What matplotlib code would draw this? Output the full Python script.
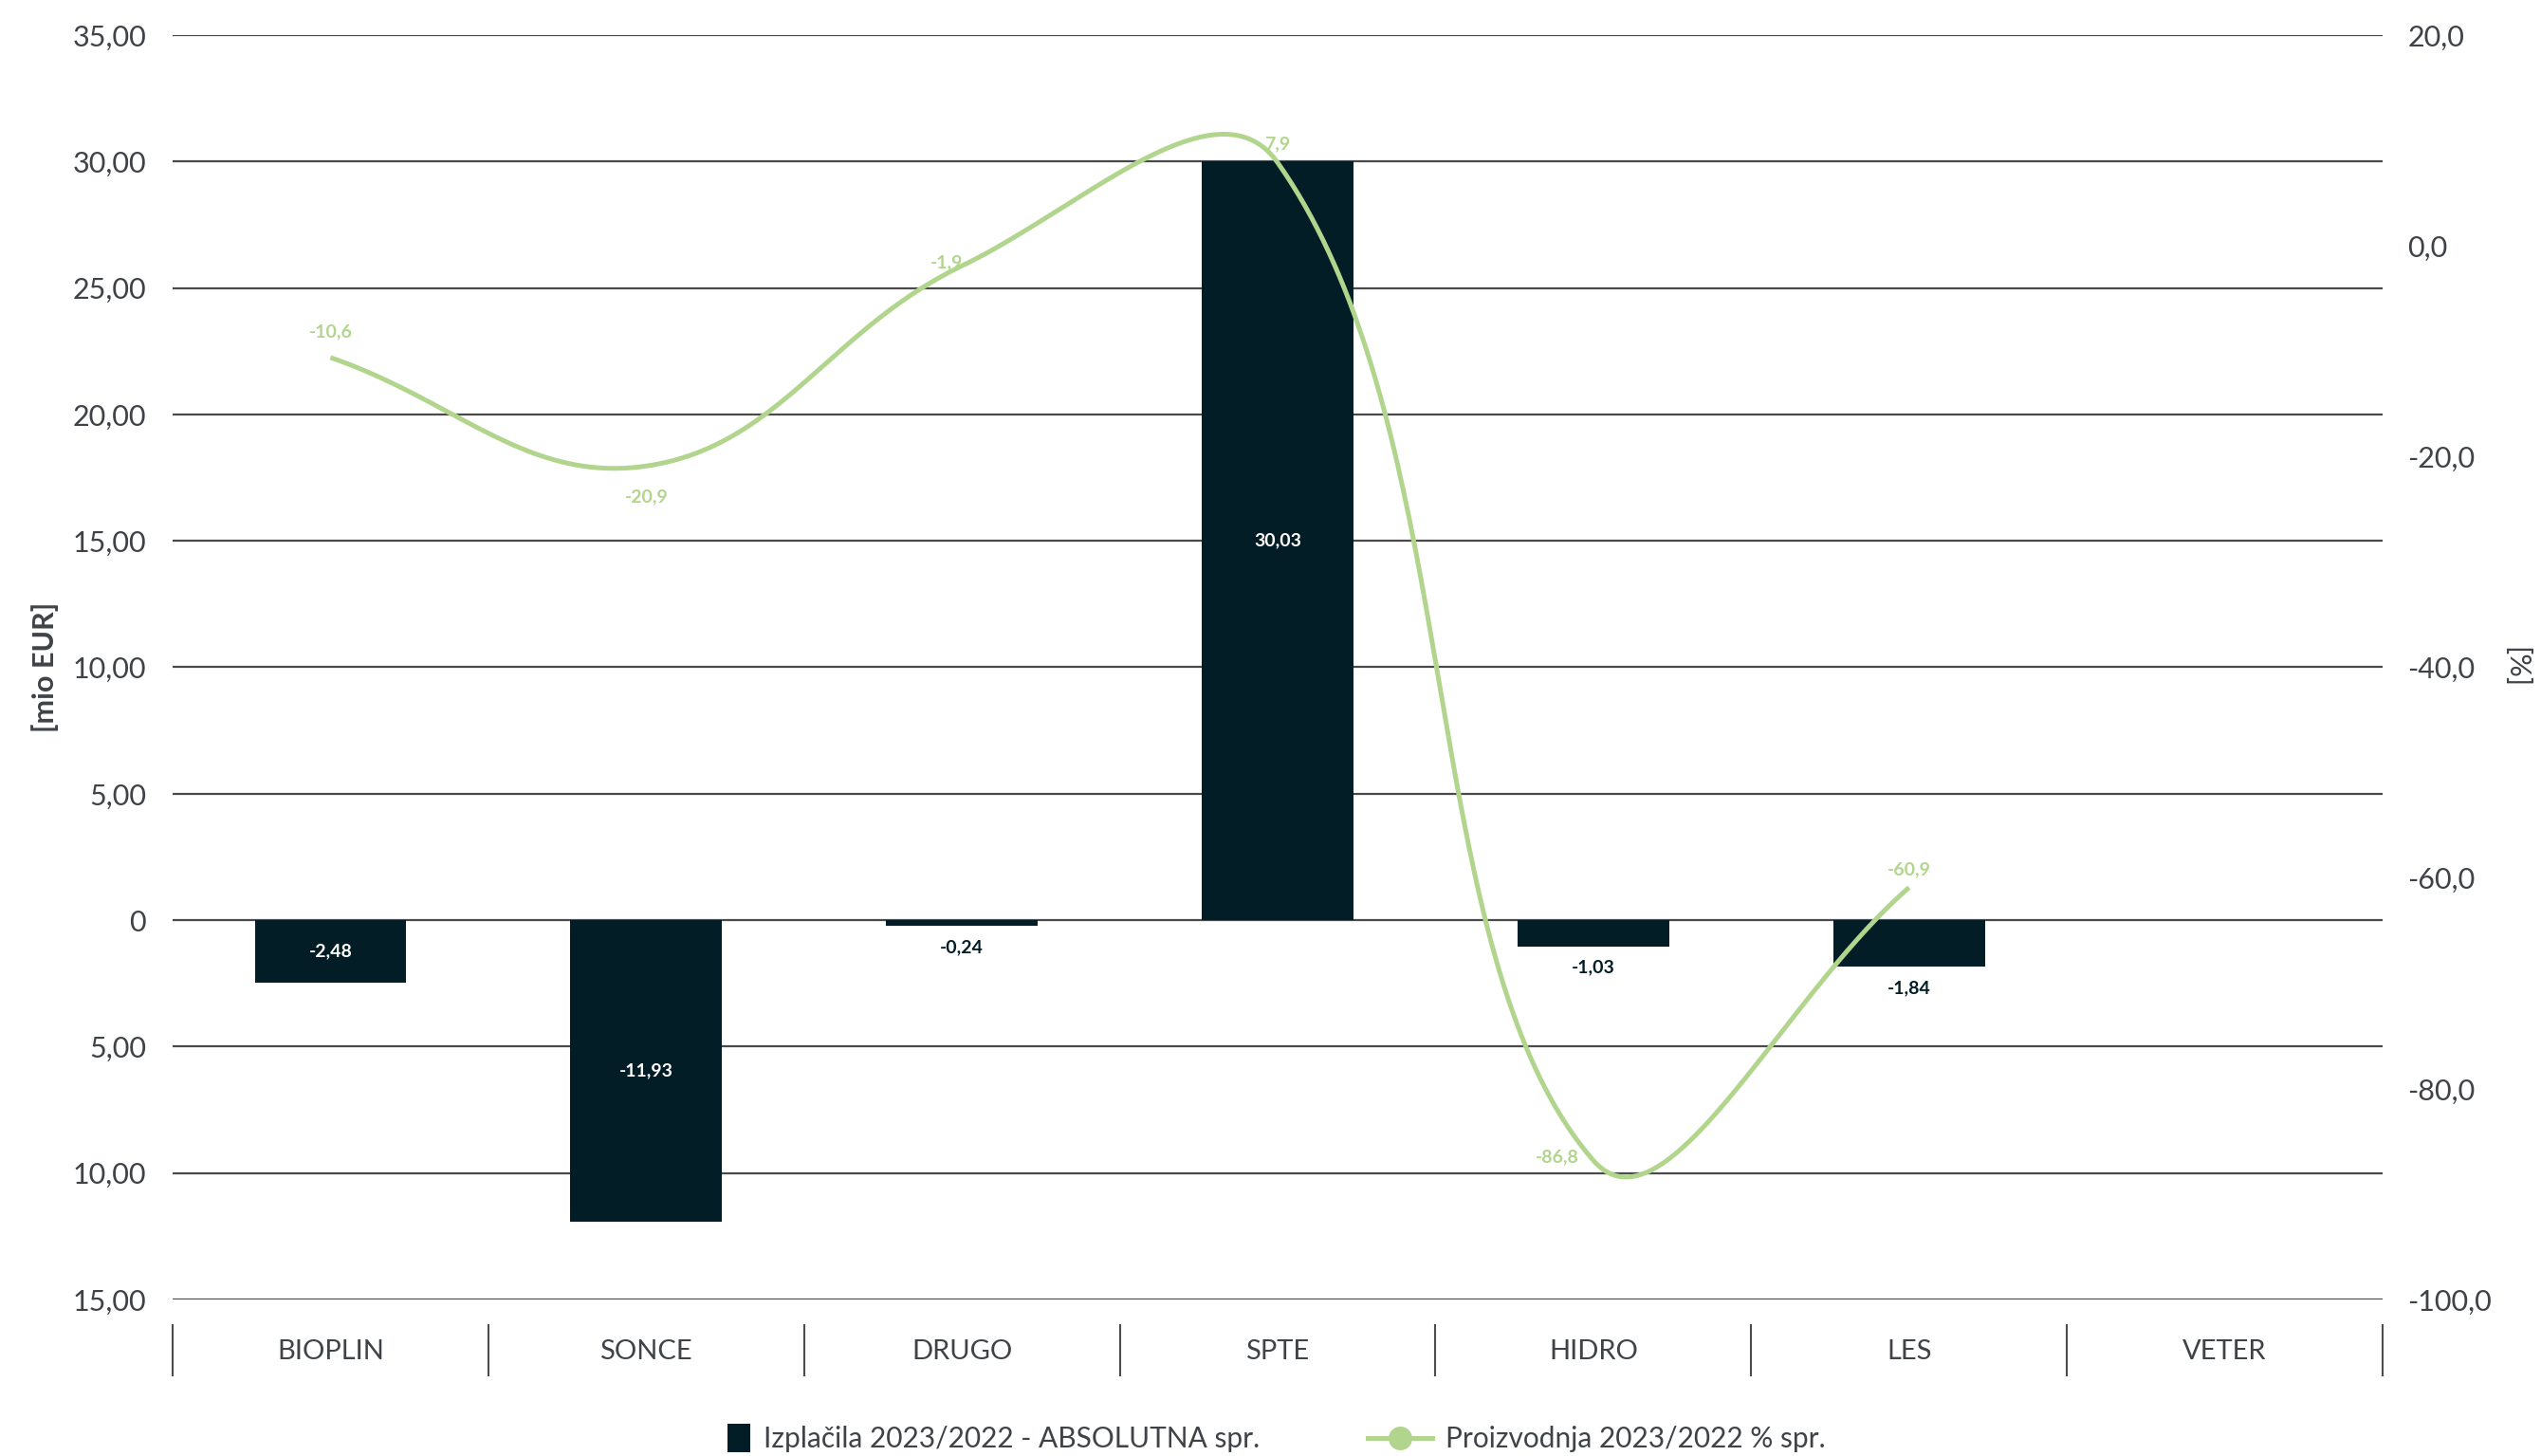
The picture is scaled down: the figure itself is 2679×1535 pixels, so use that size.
import numpy as np
import matplotlib
matplotlib.use("Agg")
import matplotlib.pyplot as plt
import matplotlib.patches as mpatches
import matplotlib.transforms as mtransforms
from matplotlib.lines import Line2D
from matplotlib.legend_handler import HandlerPatch

# ---------------- data ----------------
categories = ["BIOPLIN", "SONCE", "DRUGO", "SPTE", "HIDRO", "LES", "VETER"]
izplacila = [-2.48, -11.93, -0.24, 30.03, -1.03, -1.84, np.nan]   # mio EUR
proizvodnja = [-10.6, -20.9, -1.9, 7.9, -86.8, -60.9]              # %
left_ticks = [-15, -10, -5, 0, 5, 10, 15, 20, 25, 30, 35]
right_ticks = [-100, -80, -60, -40, -20, 0, 20]
bar_label = "Izplačila 2023/2022 - ABSOLUTNA spr."
line_label = "Proizvodnja 2023/2022 % spr."

# ---------------- style ----------------
BAR_C = "#021d25"
GREEN = "#b2d58d"
TXT = "#3f4347"
GRID = "#4a4a4a"
FONT = ["Lato", "DejaVu Sans"]
plt.rcParams["font.family"] = FONT

W, H, DPI = 2679, 1535, 100
fig = plt.figure(figsize=(W / DPI, H / DPI), dpi=DPI)
L, R, T, B = 182, 2512, 37, 1370
ax = fig.add_axes([L / W, 1 - B / H, (R - L) / W, (B - T) / H])
ax2 = ax.twinx()
ax2.set_position(ax.get_position())

x = np.arange(len(categories))
ax.set_xlim(-0.5, len(categories) - 0.5)
ax.set_ylim(-15, 35)
ax2.set_ylim(-100, 20)

for a in (ax, ax2):
    for s in a.spines.values():
        s.set_visible(False)

# gridlines on left axis ticks
ax.set_yticks(left_ticks)
ax.set_yticklabels(["0" if v == 0 else f"{abs(v):.2f}".replace(".", ",") for v in left_ticks])
ax.yaxis.grid(True, color=GRID, linewidth=1.6)
ax.set_axisbelow(True)
ax.tick_params(axis="y", length=0, pad=20, labelsize=22, labelcolor=TXT)
ax.tick_params(axis="x", length=0, labelbottom=False)

ax2.set_yticks(right_ticks)
ax2.set_yticklabels([f"{v:.1f}".replace(".", ",") for v in right_ticks])
ax2.tick_params(axis="y", length=0, pad=19, labelsize=22, labelcolor=TXT)

# bars
bars = ax.bar(x, izplacila, width=0.48, color=BAR_C, zorder=2)
for xi, v in zip(x, izplacila):
    if np.isnan(v):
        continue
    txt = f"{v:.2f}".replace(".", ",")
    if abs(v) >= 2.0:
        ax.text(xi, v / 2, txt, ha="center", va="center", color="white",
                fontsize=14, fontweight="bold", zorder=3)
    else:
        ax.annotate(txt, (xi, v), xytext=(0, -16), textcoords="offset points",
                    ha="center", va="center", color=BAR_C, fontsize=14,
                    fontweight="bold", zorder=3)

# category separators and labels below the plot
blend = mtransforms.blended_transform_factory(ax.transData, ax.transAxes)
for b in np.arange(-0.5, len(categories), 1.0):
    ax.plot([b, b], [-0.0203, -0.060], transform=blend, color="#4d4d4d",
            linewidth=1.5, clip_on=False)
for xi, c in zip(x, categories):
    ax.text(xi, -0.0413, c, transform=blend, ha="center", va="center",
            fontsize=21, color=TXT)

# smooth line (Chart.js-like tension spline computed in pixel space)
xl = x[:len(proizvodnja)]
pts = ax2.transData.transform(np.column_stack([xl, proizvodnja]))
tension = 0.4
n = len(pts)
cp_prev = np.zeros_like(pts)
cp_next = np.zeros_like(pts)
for i in range(n):
    cur = pts[i]
    prv = pts[i - 1] if i > 0 else cur
    nxt = pts[i + 1] if i < n - 1 else cur
    d01 = np.hypot(*(cur - prv))
    d12 = np.hypot(*(nxt - cur))
    tot = d01 + d12
    s01 = d01 / tot if tot else 0
    s12 = d12 / tot if tot else 0
    cp_prev[i] = cur - tension * s01 * (nxt - prv)
    cp_next[i] = cur + tension * s12 * (nxt - prv)
curve = []
tt = np.linspace(0, 1, 80)[:, None]
for i in range(n - 1):
    p0, p1, p2, p3 = pts[i], cp_next[i], cp_prev[i + 1], pts[i + 1]
    seg = ((1 - tt) ** 3) * p0 + 3 * ((1 - tt) ** 2) * tt * p1 + 3 * (1 - tt) * tt ** 2 * p2 + tt ** 3 * p3
    curve.append(seg if i == 0 else seg[1:])
curve = np.vstack(curve)
curve_data = ax2.transData.inverted().transform(curve)
ax2.plot(curve_data[:, 0], curve_data[:, 1], color=GREEN, linewidth=3.6,
         solid_capstyle="butt", zorder=4)

# line value labels (offsets in pixels)
lbl_off = [(0, 27), (0, -32), (-16, 4), (0, 20), (-38, 4), (0, 19)]
for xi, v, (dx, dy) in zip(xl, proizvodnja, lbl_off):
    ax2.annotate(f"{v:.1f}".replace(".", ","), (xi, v),
                 xytext=(dx * 0.72, dy * 0.72), textcoords="offset points",
                 ha="center", va="center", color=GREEN, fontsize=14,
                 fontweight="bold", zorder=5)

# axis titles
ax.set_ylabel("[mio EUR]", fontsize=22, fontweight="bold", color=TXT)
ax.yaxis.set_label_coords(-0.0515, 0.5)
ax2.set_ylabel("[%]", fontsize=22, color=TXT, rotation=270, va="center")
ax2.yaxis.set_label_coords(1.060, 0.5)

# legend
def square_patch(legend, orig_handle, xdescent, ydescent, width, height, fontsize):
    w, h = 0.8 * fontsize, 1.0 * fontsize
    return mpatches.Rectangle((width - xdescent - w, -ydescent + (height - h) / 2), w, h)

h1 = mpatches.Patch(facecolor=BAR_C, edgecolor="none", label=bar_label)
h2 = Line2D([], [], color=GREEN, linewidth=3.6, marker="o", markersize=17,
            label=line_label)
fig.legend(handles=[h1, h2], loc="center", bbox_to_anchor=(0.4941, 0.0117),
           ncol=2, frameon=False, fontsize=21.5, labelcolor=TXT,
           handlelength=2.28, handletextpad=0.47, columnspacing=3.82,
           handler_map={mpatches.Patch: HandlerPatch(patch_func=square_patch)})

fig.savefig("out.png", dpi=DPI)
